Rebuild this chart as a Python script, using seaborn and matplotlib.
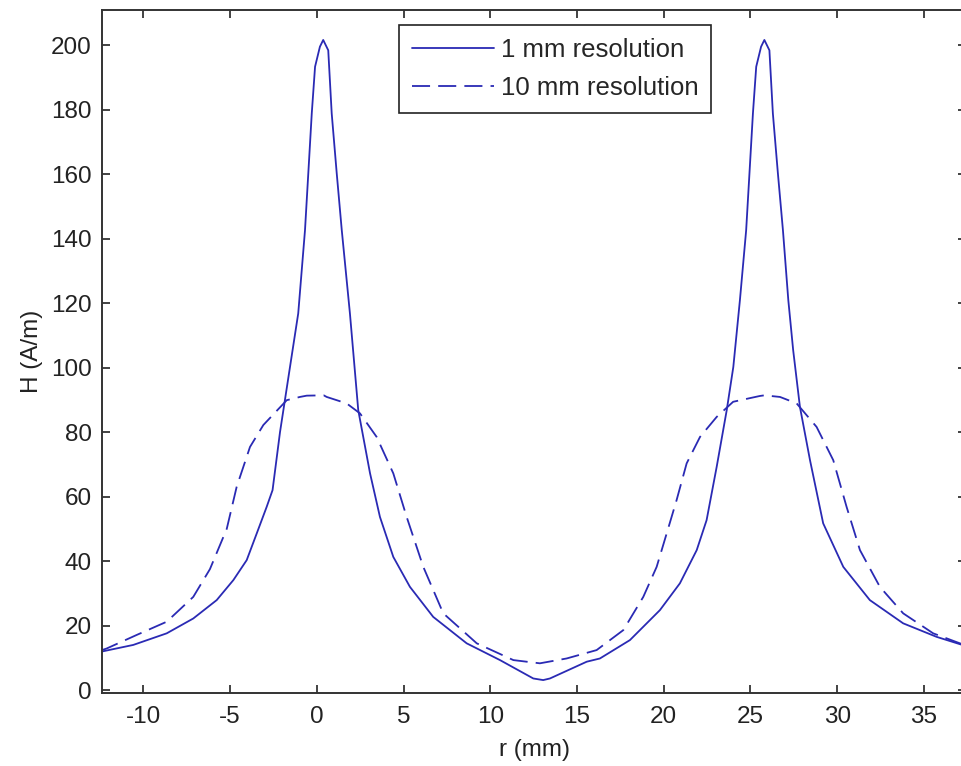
import matplotlib
matplotlib.use("Agg")
import matplotlib.pyplot as plt
import seaborn as sns

# ------------------------
# DATA
# ------------------------
r_1mm = [-12.44, -10.58, -8.65, -7.12, -5.77, -4.81, -4.04, -3.46, -2.89, -2.55,
         -2.12, -1.55, -1.07, -0.68, -0.49, -0.29, -0.10, 0.18, 0.37, 0.66,
         0.86, 1.15, 1.44, 1.91, 2.39, 3.07, 3.64, 4.41, 5.37, 6.71,
         8.64, 10.56, 12.48, 13.05, 13.44, 15.56, 16.32, 18.05, 19.78, 20.93,
         21.90, 22.47, 23.05, 23.63, 24.01, 24.39, 24.75, 24.94, 25.14, 25.33,
         25.61, 25.80, 26.09, 26.29, 26.58, 26.87, 27.18, 27.46, 27.85, 28.43,
         29.19, 30.35, 31.88, 33.80, 35.73, 37.45]
H_1mm = [11.9, 14.0, 17.6, 22.2, 27.9, 34.1, 40.3, 48.6, 56.8, 62.0,
         80.0, 100.0, 116.8, 142.6, 160.2, 178.8, 193.3, 199.5, 201.6, 198.4,
         178.8, 160.2, 142.6, 116.8, 86.8, 67.2, 53.7, 41.3, 32.0, 22.7,
         14.5, 9.3, 3.6, 3.1, 3.6, 8.8, 9.8, 15.5, 24.8, 33.1,
         43.4, 52.7, 69.2, 86.8, 100.2, 120.9, 142.6, 160.2, 178.8, 193.3,
         199.5, 201.6, 198.4, 178.8, 160.2, 142.6, 120.9, 105.4, 87.8, 71.3,
         51.7, 38.2, 27.9, 20.7, 16.5, 13.6]

r_10mm = [-12.44, -12.11, -10.38, -8.65, -7.12, -6.16, -5.19, -4.62, -3.85, -3.08,
          -1.73, -0.97, -0.58, 0.40, 0.57, 1.72, 2.49, 3.45, 4.41, 5.18,
          6.14, 7.29, 9.22, 11.33, 12.86, 14.40, 16.13, 17.67, 18.82, 19.59,
          20.17, 20.74, 21.32, 22.09, 23.05, 24.00, 25.54, 25.80, 26.70, 27.66,
          28.81, 29.77, 30.54, 31.31, 32.46, 33.80, 35.53, 37.07, 37.45]
H_10mm = [12.3, 12.9, 17.1, 21.2, 28.9, 37.5, 50.0, 63.0, 75.4, 82.2,
          89.9, 90.9, 91.3, 91.4, 90.9, 88.9, 85.8, 78.5, 67.2, 53.7,
          38.2, 23.8, 14.5, 9.3, 8.3, 9.8, 12.4, 18.6, 28.9, 38.2,
          48.6, 58.9, 70.3, 78.5, 84.7, 89.4, 91.2, 91.4, 90.9, 88.9,
          81.6, 71.3, 56.8, 43.4, 32.0, 23.8, 17.6, 14.5, 13.8]

x_ticks = list(range(-10, 36, 5))
y_ticks = list(range(0, 201, 20))

# ------------------------
# PLOT
# ------------------------
sns.set_theme(style="white")
plt.rcParams["font.family"] = ["Liberation Sans", "DejaVu Sans"]
plt.rcParams["axes.unicode_minus"] = False

fig = plt.figure(figsize=(9.61, 7.66), dpi=100)
ax = fig.add_axes([0.1058, 0.0949, 0.8999, 0.8921])

line_col = "#2a2ab4"
sns.lineplot(x=r_1mm, y=H_1mm, ax=ax, color=line_col, lw=1.3,
             label="1 mm resolution", sort=False)
sns.lineplot(x=r_10mm, y=H_10mm, ax=ax, color=line_col, lw=1.3,
             label="10 mm resolution", sort=False)
ax.lines[1].set_dashes((10, 4.5))

ax.set_xlim(-12.4, 37.45)
ax.set_ylim(-1.0, 210.9)
ax.set_xticks(x_ticks)
ax.set_yticks(y_ticks)

ax.set_xlabel("r (mm)", fontsize=17.5, color="#222222", labelpad=8)
ax.set_ylabel("H (A/m)", fontsize=17.5, color="#222222", labelpad=6)

ax.tick_params(axis="both", direction="in", length=6, width=1.2,
               colors="#222222", labelsize=17.5, top=True, right=True,
               bottom=True, left=True)
ax.tick_params(axis="x", pad=9)
ax.tick_params(axis="y", pad=7)
for sp in ax.spines.values():
    sp.set_visible(True)
    sp.set_color("#333333")
    sp.set_linewidth(1.4)

leg = ax.legend(loc="upper left", bbox_to_anchor=(0.344, 0.978),
                borderaxespad=0, fontsize=18.5, handlelength=3.2,
                handletextpad=0.25, borderpad=0.5, labelspacing=0.55,
                frameon=True, fancybox=False, framealpha=1)
leg.get_frame().set_edgecolor("#222222")
leg.get_frame().set_linewidth(1.2)

fig.savefig("out.png", dpi=100)
